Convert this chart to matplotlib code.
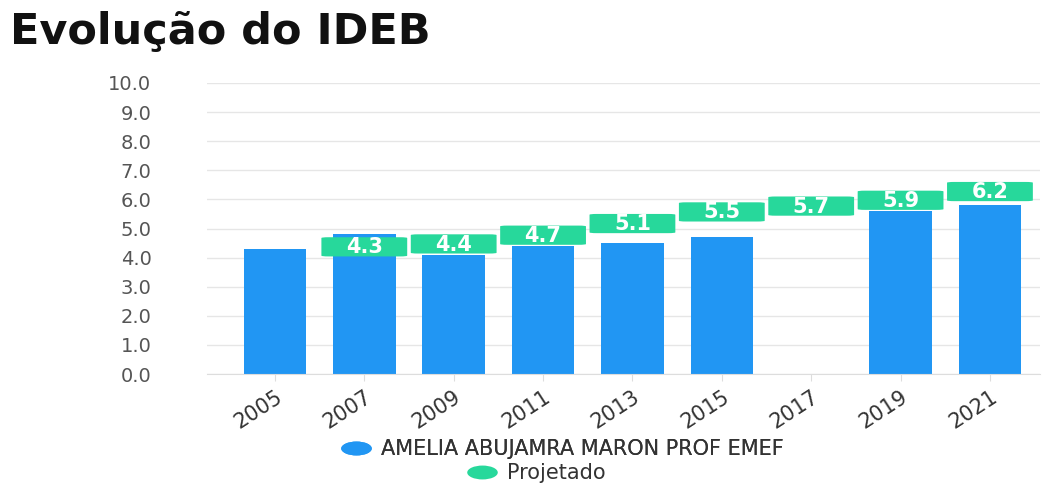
import matplotlib
matplotlib.use("Agg")
import matplotlib.pyplot as plt
from matplotlib.patches import FancyBboxPatch
from matplotlib.lines import Line2D
from matplotlib.path import Path
from matplotlib.transforms import Affine2D
import numpy as np

years = ["2005", "2007", "2009", "2011", "2013", "2015", "2017", "2019", "2021"]
ideb = [4.3, 4.8, 4.1, 4.4, 4.5, 4.7, None, 5.6, 5.8]
projetado = [None, 4.3, 4.4, 4.7, 5.1, 5.5, 5.7, 5.9, 6.2]
yticks = [0, 1, 2, 3, 4, 5, 6, 7, 8, 9, 10]
school = "AMELIA ABUJAMRA MARON PROF EMEF"

BLUE = "#2196F3"
GREEN = "#27D89B"

plt.rcParams["font.family"] = ["DejaVu Sans"]
fig = plt.figure(figsize=(10.47, 4.83), dpi=100)
ax = fig.add_axes([207/1047, 1 - 374/483, (1040 - 207)/1047, (374 - 83)/483])

x = np.arange(len(years))
vals = [v if v is not None else 0 for v in ideb]
bars = ax.bar(x, vals, width=0.70, color=BLUE, zorder=2)
for b, v in zip(bars, ideb):
    if v is None:
        b.set_visible(False)

# projected labels
for xi, p in zip(x, projetado):
    if p is None:
        continue
    w, h = 0.96, 0.66
    box = FancyBboxPatch((xi - w/2, p + 0.07 - h/2), w, h,
                         boxstyle="round,pad=0,rounding_size=0.08",
                         mutation_aspect=1 / (89.5/29.1),
                         facecolor=GREEN, edgecolor="none", zorder=3)
    ax.add_patch(box)
    ax.text(xi, p + 0.05, f"{p:.1f}", ha="center", va="center",
            color="white", fontsize=15, fontweight="bold", zorder=4)

ax.set_ylim(0, 10)
ax.set_xlim(-0.76, 8.56)
ax.set_yticks(yticks)
ax.set_yticklabels([f"{t:.1f}" for t in yticks], fontsize=14, color="#555555")
ax.set_xticks(x)
ax.set_xticklabels(years, rotation=33, ha="right", rotation_mode="anchor",
                   fontsize=15, color="#333333")
ax.tick_params(axis="y", length=0, pad=40)
ax.tick_params(axis="x", length=5, color="#dddddd", pad=4)
ax.grid(axis="y", color="#e6e6e6", linewidth=1, zorder=0)
for s in ["top", "right", "left"]:
    ax.spines[s].set_visible(False)
ax.spines["bottom"].set_color("#dddddd")

fig.text(10/1047, 1 - 44/483, "Evolução do IDEB", fontsize=31, fontweight="bold",
         va="baseline", ha="left", color="#111111")

ell = Path.unit_circle().transformed(Affine2D().scale(2.2, 1))
h1 = Line2D([], [], marker=ell, linestyle="none", markersize=22,
            markerfacecolor=BLUE, markeredgecolor="none", label=school)
h2 = Line2D([], [], marker=ell, linestyle="none", markersize=22,
            markerfacecolor=GREEN, markeredgecolor="none", label="Projetado")
leg1 = fig.legend(handles=[h1], loc="center", bbox_to_anchor=(0.535, 1 - 449/483),
                  frameon=False, fontsize=15, handletextpad=0.3, borderpad=0,
                  labelcolor="#333333", handlelength=1.8)
fig.add_artist(leg1)
leg2 = fig.legend(handles=[h2], loc="center", bbox_to_anchor=(0.51, 1 - 473/483),
                  frameon=False, fontsize=15, handletextpad=0.3, borderpad=0,
                  labelcolor="#333333", handlelength=1.8)

fig.savefig("out.png", dpi=100, facecolor="white")
